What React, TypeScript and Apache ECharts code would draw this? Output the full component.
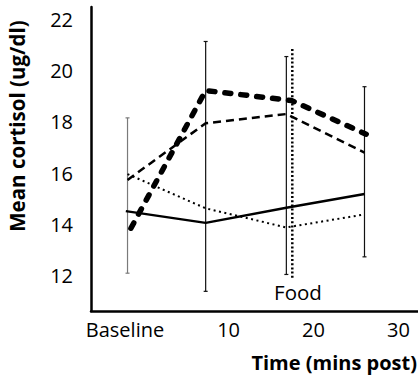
import React, { useEffect, useRef } from "react";
import * as echarts from "echarts";

// Time axis expressed in minutes (Baseline sits just before 0)
const xTickValues = [-2.2, 10, 20, 30];
const xTickLabels = ["Baseline", "10", "20", "30"];
const yTickValues = [12, 14, 16, 18, 20, 22];

const pointTimes = [-1.9, 7.3, 16.8, 26.0];
const thickDashTimes = [-1.5, 7.3, 17.4, 26.2];
const solidTimes = [-2.1, 7.3, 16.8, 26.0];

const thickDashValues = [13.84, 19.23, 18.84, 17.52];
const dashValues = [15.73, 17.95, 18.31, 16.8];
const dottedValues = [15.96, 14.62, 13.87, 14.38];
const solidValues = [14.51, 14.05, 14.64, 15.18];

const errLow = [12.08, 11.37, 12.03, 12.72];
const errHigh = [18.16, 21.15, 20.56, 19.38];
const errColors = ["#7a7a7a", "#111111", "#111111", "#111111"];

const foodTime = 17.5;
const foodRange = [11.9, 20.91];
const foodLabel = "Food";

const FONT = "'Open Sans', 'Noto Sans', sans-serif";

export default function App() {
  const ref = useRef<HTMLDivElement>(null);

  useEffect(() => {
    if (!ref.current) return;
    const chart = echarts.init(ref.current, undefined, { renderer: "svg" });

    const zip = (xs: number[], ys: number[]) => xs.map((x, i) => [x, ys[i]]);

    const errData = pointTimes.map((t, i) => [t, errLow[i], errHigh[i], i]);

    const option: any = {
      animation: false,
      backgroundColor: "#ffffff",
      grid: { left: 91, right: 0, top: 7, bottom: 65 },
      xAxis: {
        type: "value",
        min: -6.2,
        max: 32.3,
        axisLine: { show: true, onZero: false, lineStyle: { color: "#000", width: 2.5 } },
        axisTick: { show: false },
        splitLine: { show: false },
        axisLabel: {
          customValues: xTickValues,
          formatter: (v: number) => {
            const idx = xTickValues.findIndex((t) => Math.abs(t - v) < 1e-6);
            return idx >= 0 ? xTickLabels[idx] : "";
          },
          color: "#000",
          fontSize: 20,
          fontFamily: FONT,
          margin: 8,
        },
      },
      yAxis: {
        type: "value",
        min: 10.6,
        max: 22.5,
        axisLine: { show: true, onZero: false, lineStyle: { color: "#000", width: 2.5 } },
        axisTick: { show: false },
        splitLine: { show: false },
        axisLabel: {
          customValues: yTickValues,
          color: "#000",
          fontSize: 20,
          fontFamily: FONT,
          margin: 18,
        },
      },
      series: [
        {
          type: "custom",
          data: errData,
          z: 1,
          renderItem: (params: any, api: any) => {
            const t = api.value(0);
            const lo = api.coord([t, api.value(1)]);
            const hi = api.coord([t, api.value(2)]);
            const color = errColors[api.value(3)];
            const cap = 2;
            const style = { stroke: color, lineWidth: 1.2 };
            return {
              type: "group",
              children: [
                { type: "line", shape: { x1: lo[0], y1: lo[1], x2: hi[0], y2: hi[1] }, style },
                { type: "line", shape: { x1: lo[0] - cap, y1: lo[1], x2: lo[0] + cap, y2: lo[1] }, style },
                { type: "line", shape: { x1: hi[0] - cap, y1: hi[1], x2: hi[0] + cap, y2: hi[1] }, style },
              ],
            };
          },
        },
        {
          type: "line",
          data: [
            [foodTime, foodRange[0]],
            [foodTime, foodRange[1]],
          ],
          showSymbol: false,
          z: 2,
          lineStyle: { color: "#000", width: 2.5, type: [2, 2.2] },
        },
        {
          type: "line",
          data: zip(solidTimes, solidValues),
          showSymbol: false,
          z: 3,
          lineStyle: { color: "#000", width: 2.5 },
        },
        {
          type: "line",
          data: zip(pointTimes, dottedValues),
          showSymbol: false,
          z: 3,
          lineStyle: { color: "#000", width: 2, type: [2, 3.5] },
        },
        {
          type: "line",
          data: zip(pointTimes, dashValues),
          showSymbol: false,
          z: 3,
          lineStyle: { color: "#000", width: 2.5, type: [8, 5] },
        },
        {
          type: "line",
          data: zip(thickDashTimes, thickDashValues),
          showSymbol: false,
          z: 4,
          lineStyle: { color: "#000", width: 5.5, type: [6, 10], cap: "round", join: "round" },
        },
      ],
      graphic: [
        {
          type: "text",
          x: 17,
          y: 126,
          rotation: Math.PI / 2,
          style: {
            text: "Mean cortisol (ug/dl)",
            fontFamily: FONT,
            fontWeight: "bold",
            fontSize: 20.5,
            fill: "#000",
            textAlign: "center",
            textVerticalAlign: "middle",
          },
        },
        {
          type: "text",
          x: 417,
          y: 362,
          style: {
            text: "Time (mins post)",
            fontFamily: FONT,
            fontWeight: "bold",
            fontSize: 20,
            fill: "#000",
            textAlign: "right",
            textVerticalAlign: "middle",
          },
        },
        {
          type: "text",
          x: 298,
          y: 292,
          style: {
            text: foodLabel,
            fontFamily: FONT,
            fontSize: 20.5,
            fill: "#000",
            textAlign: "center",
            textVerticalAlign: "middle",
          },
        },
      ],
    };

    chart.setOption(option);
    return () => chart.dispose();
  }, []);

  return (
    <div
      ref={ref}
      style={{ position: "fixed", left: 0, top: 0, width: 418, height: 376, background: "#fff" }}
    />
  );
}
